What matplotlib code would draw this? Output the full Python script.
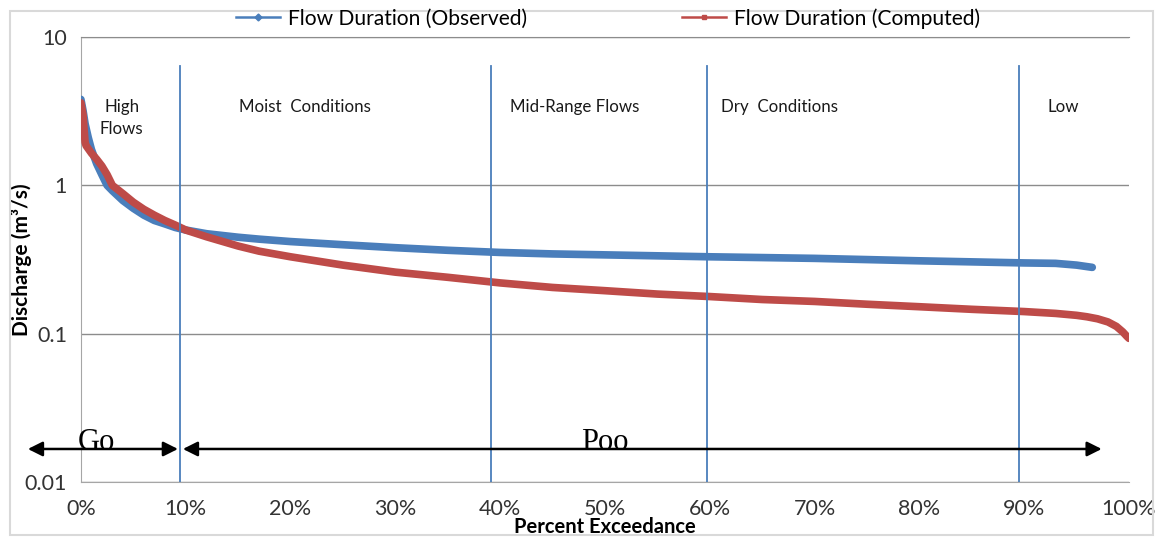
import matplotlib.pyplot as plt
from matplotlib.lines import Line2D
from matplotlib.patches import Rectangle
from matplotlib.ticker import PercentFormatter, FixedLocator, FixedFormatter

plt.rcParams['font.family'] = ['Lato', 'DejaVu Sans']

# flow duration curves: percent exceedance vs discharge (m3/s)
obs_pct = [0, 0.2, 0.4, 0.7, 1, 1.5, 2, 2.5, 3, 4, 5, 6, 7, 8, 9, 10, 12, 15, 17, 20, 25, 30,
           35, 40, 45, 50, 55, 60, 65, 70, 75, 80, 85, 90, 93, 95, 96.5]
obs_q = [3.8, 3.2, 2.6, 2.1, 1.75, 1.4, 1.18, 1.0, 0.92, 0.79, 0.70, 0.63, 0.58, 0.55, 0.52,
         0.50, 0.472, 0.447, 0.434, 0.418, 0.398, 0.38, 0.365, 0.353, 0.345, 0.34, 0.335, 0.33,
         0.326, 0.322, 0.316, 0.31, 0.305, 0.30, 0.298, 0.29, 0.28]

comp_pct = [0, 0.2, 0.3, 0.4, 0.5, 1, 1.5, 2, 2.5, 3, 4, 5, 6, 7, 8, 9, 10, 12, 15, 17, 20, 25,
            30, 35, 40, 45, 50, 55, 60, 65, 70, 75, 80, 85, 90, 93, 95, 96, 97, 98, 98.8, 99.4,
            99.8, 100]
comp_q = [3.6, 3.0, 2.4, 1.95, 1.85, 1.65, 1.5, 1.35, 1.18, 1.0, 0.88, 0.77, 0.69, 0.63, 0.58,
          0.54, 0.50, 0.45, 0.39, 0.36, 0.33, 0.29, 0.26, 0.24, 0.22, 0.205, 0.195, 0.185, 0.178,
          0.17, 0.165, 0.158, 0.152, 0.146, 0.141, 0.137, 0.133, 0.13, 0.126, 0.12, 0.112, 0.103,
          0.096, 0.093]

# zone divider lines (percent exceedance) and zone captions
zone_bounds = [9.5, 39.1, 59.7, 89.5]
zone_names = ['High\nFlows', 'Moist  Conditions', 'Mid-Range Flows', 'Dry  Conditions', 'Low']
zone_label_x = [3.9, 21.4, 47.1, 66.7, 93.7]

blue = '#4a7ebb'
red = '#be4b48'

fig = plt.figure(figsize=(11.56, 5.37), dpi=100)
ax = fig.add_axes([0.070, 0.1024, 0.9066, 0.8286])

fig.patches.append(Rectangle((10 / 1156, 2 / 537), 1143 / 1156, 524 / 537,
                             transform=fig.transFigure, fill=False,
                             edgecolor='#d9d9d9', linewidth=1.5))

x_obs = [p / 100 for p in obs_pct]
x_comp = [p / 100 for p in comp_pct]
ax.plot(x_obs, obs_q, color=blue, linewidth=5.5, solid_capstyle='round', zorder=3)
ax.plot(x_comp, comp_q, color=red, linewidth=5.5, solid_capstyle='round', zorder=4)

for b in zone_bounds:
    ax.plot([b / 100, b / 100], [0.01, 6.4], color=blue, linewidth=1.3, zorder=5)

for xl, name in zip(zone_label_x, zone_names):
    yl = 2.85 if '\n' in name else 3.37
    ax.text(xl / 100, yl, name, ha='center', va='center', fontsize=12.2, color='#1a1a1a',
            linespacing=1.45)

# bracket arrows along the bottom
ay = 0.0167
ax.annotate('', xy=(-0.0506, ay), xytext=(0.0926, ay),
            arrowprops=dict(arrowstyle='<|-|>', color='black', lw=1.8, mutation_scale=22,
                            shrinkA=0, shrinkB=0), annotation_clip=False, zorder=6)
ax.annotate('', xy=(0.0973, ay), xytext=(0.974, ay),
            arrowprops=dict(arrowstyle='<|-|>', color='black', lw=1.8, mutation_scale=22,
                            shrinkA=0, shrinkB=0), annotation_clip=False, zorder=6)
ax.text(0.015, 0.0185, 'Go', family='Liberation Serif', fontsize=22, ha='center', va='center',
        zorder=7)
ax.text(0.50, 0.0185, 'Poo', family='Liberation Serif', fontsize=22, ha='center', va='center',
        zorder=7)

ax.set_yscale('log')
ax.set_ylim(0.01, 10)
ax.set_xlim(0, 1)
ax.yaxis.set_major_locator(FixedLocator([0.01, 0.1, 1, 10]))
ax.yaxis.set_major_formatter(FixedFormatter(['0.01', '0.1', '1', '10']))
ax.yaxis.set_minor_locator(FixedLocator([]))
ax.set_xticks([i / 10 for i in range(11)])
ax.xaxis.set_major_formatter(PercentFormatter(1.0, decimals=0))
ax.tick_params(axis='both', length=0, labelsize=15.5, colors='#333333')
ax.tick_params(axis='x', pad=12)
ax.tick_params(axis='y', pad=10)

ax.grid(axis='y', color='#8c8c8c', linewidth=1)
ax.spines['right'].set_visible(False)
ax.spines['top'].set_color('#8c8c8c')
ax.spines['left'].set_color('#a6a6a6')
ax.spines['bottom'].set_color('#a6a6a6')

ax.set_xlabel('Percent Exceedance', fontsize=14.5, fontweight='bold')
ax.xaxis.set_label_coords(0.5, -0.079)
ax.set_ylabel('Discharge (m³/s)', fontsize=15, fontweight='bold')
ax.yaxis.set_label_coords(-0.047, 0.5)

handles = [Line2D([], [], color=blue, lw=1.8, marker='D', markersize=3.5),
           Line2D([], [], color=red, lw=1.8, marker='s', markersize=3.5)]
fig.legend(handles, ['Flow Duration (Observed)', 'Flow Duration (Computed)'],
           loc='center', bbox_to_anchor=(0.526, 0.966), ncol=2, frameon=False,
           fontsize=15.1, handlelength=2.1, columnspacing=7.4, handletextpad=0.35)

fig.savefig('out.png', dpi=100)
